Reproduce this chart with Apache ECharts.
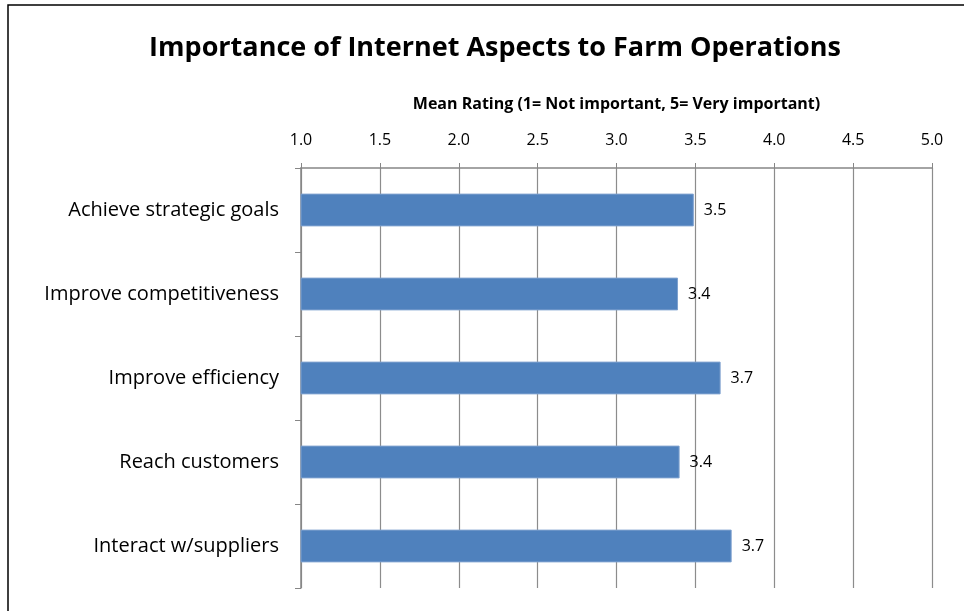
<!DOCTYPE html>
<html>
<head>
<meta charset="utf-8">
<script src="https://cdn.jsdelivr.net/npm/echarts@6/dist/echarts.min.js"></script>
<style>
  html, body { margin: 0; padding: 0; background: #fff; }
  #chart { width: 964px; height: 611px; }
</style>
</head>
<body>
<div id="chart"></div>
<script>
const categories = [
  'Achieve strategic goals',
  'Improve competitiveness',
  'Improve efficiency',
  'Reach customers',
  'Interact w/suppliers'
]
const meanRatings = [3.49, 3.39, 3.66, 3.40, 3.73]
const tickLabels = ['1.0', '1.5', '2.0', '2.5', '3.0', '3.5', '4.0', '4.5', '5.0']

const font = 'Open Sans'
const chart = echarts.init(document.getElementById('chart'))

chart.setOption({
  animation: false,
  title: {
    text: 'Importance of Internet Aspects to Farm Operations',
    left: 490,
    top: 30,
    textAlign: 'center',
    textStyle: { fontFamily: font, fontSize: 27, fontWeight: 'bold', color: '#000' }
  },
  graphic: [{
    type: 'rect',
    shape: { x: 8, y: 5, width: 1000, height: 1000 },
    style: { fill: 'none', stroke: '#000', lineWidth: 1.5 }
  }],
  grid: { left: 301, top: 168, width: 631, height: 420 },
  xAxis: {
    type: 'value',
    position: 'top',
    min: 1,
    max: 5,
    interval: 0.5,
    name: 'Mean Rating (1= Not important, 5= Very important)',
    nameLocation: 'middle',
    nameGap: 56,
    nameTextStyle: { fontFamily: font, fontSize: 16, fontWeight: 'bold', color: '#000' },
    axisLine: { show: true, lineStyle: { color: '#868686', width: 1.5 } },
    axisTick: { show: true, length: 5, lineStyle: { color: '#868686' } },
    axisLabel: {
      fontFamily: font, fontSize: 16, color: '#000', margin: 20,
      formatter: function (v) { return tickLabels[Math.round((v - 1) / 0.5)] }
    },
    splitLine: { show: true, lineStyle: { color: '#8c8c8c', width: 1.2 } }
  },
  yAxis: {
    type: 'category',
    data: categories,
    inverse: true,
    axisLine: { show: true, lineStyle: { color: '#868686', width: 1.5 } },
    axisTick: { show: true, length: 6, lineStyle: { color: '#868686' } },
    axisLabel: { fontFamily: font, fontSize: 20, color: '#000', margin: 22 }
  },
  series: [{
    type: 'bar',
    data: meanRatings,
    barWidth: '39%',
    itemStyle: { color: '#4F81BD', borderColor: '#7EA1CF', borderWidth: 1 },
    label: {
      show: true,
      position: 'right',
      distance: 10,
      fontFamily: font,
      fontSize: 16,
      color: '#000',
      formatter: function (p) { return p.value.toFixed(1) }
    }
  }]
})
</script>
</body>
</html>
